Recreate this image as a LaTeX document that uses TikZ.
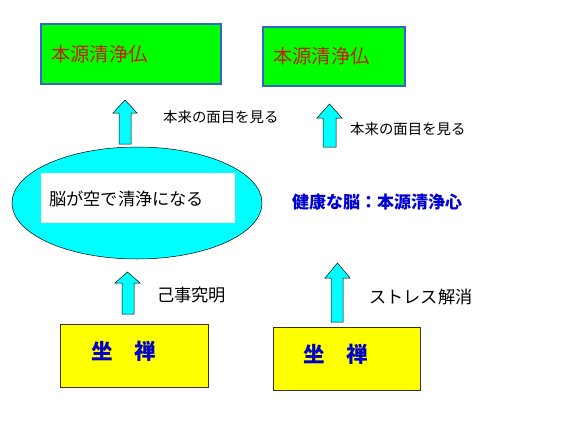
\documentclass[tikz,border=0pt]{standalone}
\usepackage{fontspec}
\setmainfont{Noto Sans CJK JP}
\begin{document}
\begin{tikzpicture}[x=1pt,y=-1pt,
  greenbox/.style={draw={rgb,255:red,51;green,102;blue,204},line width=1.5pt,fill={rgb,255:red,0;green,255;blue,0}},
  yellowbox/.style={draw={rgb,255:red,60;green,50;blue,30},line width=0.8pt,fill={rgb,255:red,255;green,255;blue,0}},
  blockarrow/.style={draw=black,line width=0.5pt,fill={rgb,255:red,0;green,255;blue,255}},
  redtxt/.style={anchor=west,inner sep=0pt,text={rgb,255:red,200;green,30;blue,0},font=\fontsize{19.3}{20}\selectfont},
  smalltxt/.style={anchor=west,inner sep=0pt,font=\fontsize{14.4}{16}\selectfont},
  midtxt/.style={anchor=west,inner sep=0pt,font=\fontsize{17.2}{18}\selectfont},
  zentxt/.style={inner sep=0pt,text={rgb,255:red,0;green,0;blue,200},font=\bfseries\fontsize{21.5}{22}\selectfont}]
\useasboundingbox[fill=white] (0,0) rectangle (568,434);
% green boxes
\draw[greenbox] (41,24) rectangle (221,84);
\node[redtxt] (g1) at (51,54) {本源清浄仏};
\draw[greenbox] (263,27) rectangle (405,86);
\node[redtxt] (g2) at (273,56) {本源清浄仏};
% upper arrows
\draw[blockarrow] (119,144) -- (119,113) -- (113,113) -- (125,100) -- (137,113) -- (131,113) -- (131,144) -- cycle;
\node[smalltxt] (l1) at (163,117) {本来の面目を見る};
\draw[blockarrow] (323,147) -- (323,118) -- (317,118) -- (329.5,104) -- (342,118) -- (336,118) -- (336,147) -- cycle;
\node[smalltxt] (l2) at (350,129) {本来の面目を見る};
% ellipse
\draw[black,line width=0.5pt,fill={rgb,255:red,0;green,255;blue,255}] (137,203) ellipse [x radius=125,y radius=56];
\fill[white] (41,173) rectangle (235,223);
\node[midtxt] (brain) at (49,199) {脳が空で清浄になる};
\node[midtxt,text={rgb,255:red,0;green,0;blue,210},font=\bfseries\fontsize{17}{18}\selectfont] (health) at (292,202) {健康な脳：本源清浄心};
% lower arrows
\draw[blockarrow] (122,314) -- (122,283) -- (115,283) -- (127.5,272) -- (140,283) -- (134,283) -- (134,314) -- cycle;
\node[midtxt] (l3) at (157,295) {己事究明};
\draw[blockarrow] (331,322) -- (331,278) -- (325,278) -- (337.5,263) -- (350,278) -- (343,278) -- (343,322) -- cycle;
\node[midtxt] (l4) at (369,297) {ストレス解消};
% yellow boxes
\draw[yellowbox] (60,324) rectangle (208,387);
\node[zentxt] (z1) at (124,351) {坐　禅};
\draw[yellowbox] (273,327) rectangle (420,390);
\node[zentxt] (z2) at (336,354) {坐　禅};
\end{tikzpicture}
\end{document}
